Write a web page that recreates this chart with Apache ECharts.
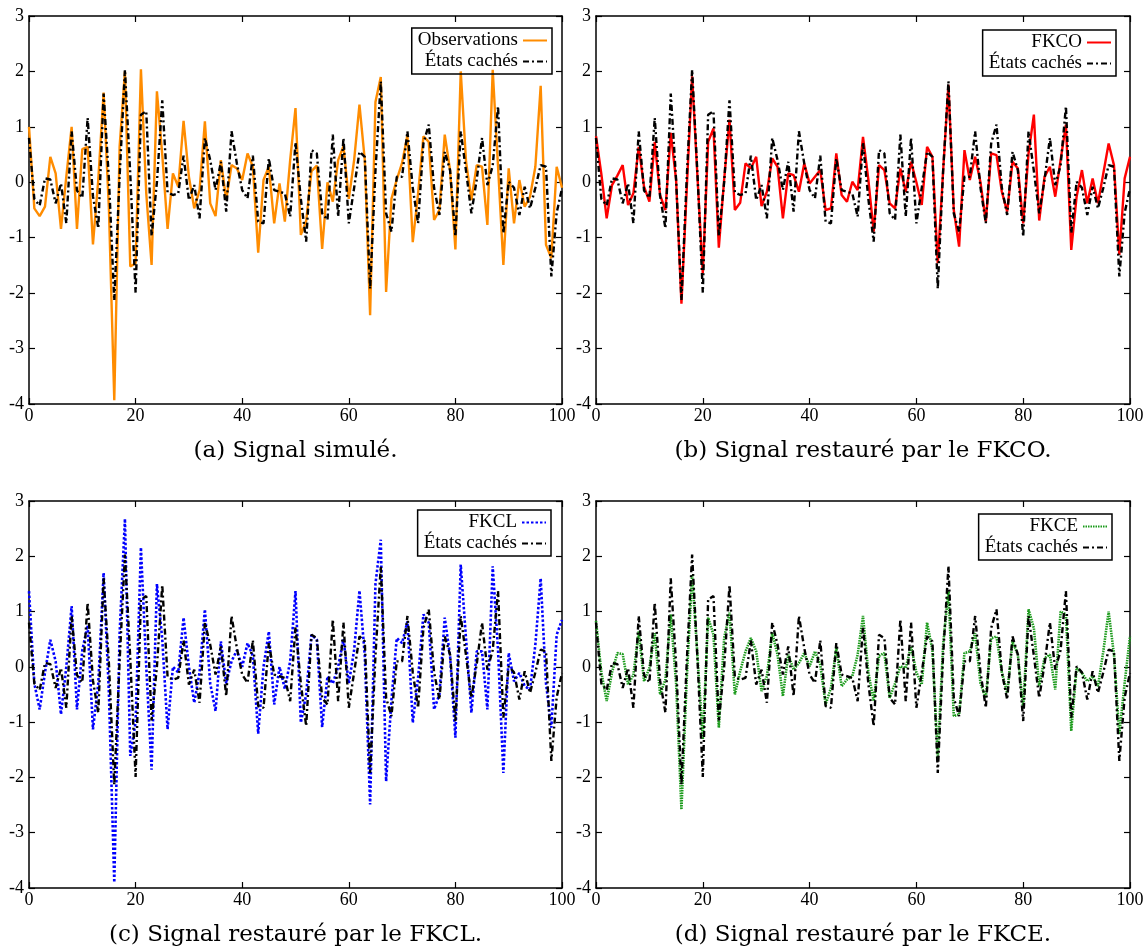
<!DOCTYPE html>
<html>
<head>
<meta charset="utf-8">
<script src="https://cdn.jsdelivr.net/npm/echarts@6/dist/echarts.min.js"></script>
<style>
html,body{margin:0;padding:0;background:#fff;}
#chart{width:1148px;height:950px;}
</style>
</head>
<body>
<div id="chart"></div>
<script>
// ---- data ----
var xTicks = [0, 20, 40, 60, 80, 100];
var yTicks = [-4, -3, -2, -1, 0, 1, 2, 3];

var hiddenStates = [
  0.80, -0.30, -0.42, 0.07, 0.05, -0.38, -0.02, -0.74, 0.92, -0.15,
  -0.28, 1.16, -0.25, -0.83, 1.60, 0.05, -2.13, 0.10, 2.03, 0.15,
  -1.99, 1.22, 1.28, -0.97, 0.00, 1.48, -0.18, -0.23, -0.20, 0.48,
  -0.32, -0.05, -0.65, 0.80, 0.40, -0.14, 0.37, -0.53, 0.92, 0.34,
  -0.14, -0.29, 0.48, -0.71, -0.74, 0.43, -0.14, -0.17, -0.20, -0.62,
  0.72, -0.30, -1.07, 0.58, 0.52, -0.56, -0.68, 0.86, -0.62, 0.80,
  -0.74, -0.10, 0.55, 0.46, -1.92, 0.20, 1.82, -0.56, -0.89, 0.10,
  0.10, 0.92, -0.10, -0.74, 0.70, 1.04, -0.10, -0.59, 0.55, 0.22,
  -0.98, 0.92, 0.20, -0.56, 0.05, 0.80, -0.05, 0.30, 1.37, -0.92,
  0.01, -0.10, -0.59, -0.08, -0.47, -0.10, 0.31, 0.28, -1.70, -0.55, -0.11
];

var observations = [
  1.00, -0.47, -0.61, -0.44, 0.46, 0.16, -0.84, 0.10, 1.00, -0.84,
  0.60, 0.64, -1.12, 0.05, 1.62, -0.50, -3.93, 0.64, 2.00, -1.52,
  -1.46, 2.04, -0.20, -1.49, 1.64, 0.50, -0.84, 0.16, -0.08, 1.11,
  0.10, -0.47, -0.14, 1.10, -0.38, -0.61, 0.40, -0.32, 0.31, 0.25,
  0.04, 0.52, 0.28, -1.27, 0.04, 0.28, -0.74, -0.02, -0.71, 0.40,
  1.34, -0.95, -0.70, 0.20, 0.30, -1.20, 0.00, -0.35, 0.40, 0.65,
  -0.30, 0.40, 1.40, 0.40, -2.40, 1.45, 1.90, -1.98, -0.30, 0.05,
  0.35, 0.85, -1.08, -0.20, 0.83, 0.73, -0.68, -0.50, 0.86, 0.22,
  -1.21, 2.00, 0.37, -0.32, 0.31, 0.28, -0.77, 2.03, 0.28, -1.49,
  0.25, -0.74, 0.04, -0.44, -0.26, 0.28, 1.74, -1.13, -1.37, 0.28, -0.10
];

var fkco = [
  0.83, 0.15, -0.65, -0.05, 0.12, 0.31, -0.41, -0.20, 0.64, -0.08,
  -0.35, 0.73, -0.23, -0.50, 0.89, 0.04, -2.19, -0.10, 1.91, 0.10,
  -1.64, 0.73, 0.97, -1.18, 0.05, 1.13, -0.50, -0.37, 0.34, 0.25,
  0.46, -0.43, -0.17, 0.43, 0.28, -0.65, 0.16, 0.13, -0.17, 0.34,
  -0.02, 0.10, 0.22, -0.50, -0.47, 0.52, -0.23, -0.35, 0.01, -0.14,
  0.82, 0.05, -0.89, 0.31, 0.22, -0.38, -0.47, 0.25, -0.17, 0.37,
  0.00, -0.41, 0.64, 0.46, -1.46, 0.20, 1.76, -0.50, -1.16, 0.58,
  0.04, 0.46, 0.00, -0.71, 0.52, 0.49, -0.17, -0.53, 0.37, 0.25,
  -0.74, 0.52, 1.22, -0.69, 0.10, 0.28, -0.26, 0.40, 1.04, -1.22,
  -0.26, 0.22, -0.38, 0.07, -0.38, 0.16, 0.70, 0.31, -1.31, 0.07, 0.46
];

var fkcl = [
  1.37, -0.30, -0.77, -0.10, 0.49, 0.10, -0.86, 0.00, 1.10, -0.77,
  0.30, 0.75, -1.13, -0.30, 1.70, -0.50, -3.90, 0.60, 2.68, -1.61,
  -1.00, 2.16, 0.00, -1.86, 1.50, 0.50, -1.13, 0.00, -0.10, 0.89,
  0.00, -0.65, -0.10, 1.04, -0.30, -0.80, 0.46, -0.30, 0.10, 0.30,
  0.00, 0.43, 0.20, -1.21, 0.00, 0.64, -0.68, 0.00, -0.40, 0.10,
  1.37, -1.01, -0.50, 0.58, 0.49, -1.09, -0.17, -0.30, 0.00, 0.50,
  -0.30, 0.30, 1.38, 0.20, -2.49, 1.50, 2.30, -2.07, -0.60, 0.52,
  0.43, 0.82, -1.01, -0.20, 0.95, 0.80, -0.77, -0.50, 0.89, 0.20,
  -1.28, 1.85, 0.50, -0.83, 0.28, 0.28, -0.77, 1.82, 0.30, -1.92,
  0.25, -0.26, -0.11, -0.35, -0.41, 0.40, 1.60, -0.30, -1.10, 0.58, 0.85
];

var fkce = [
  0.83, -0.10, -0.62, -0.10, 0.25, 0.23, -0.32, -0.15, 0.64, -0.26,
  -0.02, 0.61, -0.50, -0.23, 0.95, -0.30, -2.58, -0.20, 1.67, 0.20,
  -1.31, 0.89, 0.58, -1.10, 0.52, 0.98, -0.50, -0.08, 0.28, 0.52,
  0.28, -0.44, -0.17, 0.61, 0.22, -0.53, 0.22, -0.05, 0.07, 0.25,
  0.01, 0.28, 0.04, -0.68, -0.38, 0.34, -0.35, -0.23, -0.17, 0.22,
  0.92, -0.10, -0.62, 0.20, 0.25, -0.56, -0.30, 0.01, -0.02, 0.37,
  -0.10, -0.32, 0.80, 0.30, -1.64, 0.40, 1.37, -0.89, -0.86, 0.25,
  0.28, 0.61, -0.30, -0.56, 0.52, 0.55, -0.10, -0.47, 0.46, 0.22,
  -0.74, 1.04, 0.70, -0.35, 0.16, 0.22, -0.41, 1.00, 0.95, -1.16,
  -0.02, -0.11, -0.26, -0.17, -0.35, 0.28, 1.00, 0.22, -1.22, -0.29, 0.55
];

var panelNames = ['Observations', 'FKCO', 'FKCL', 'FKCE'];
var hiddenName = 'États cachés';
var captions = ['(a) Signal simulé.', '(b) Signal restauré par le FKCO.',
                '(c) Signal restauré par le FKCL.', '(d) Signal restauré par le FKCE.'];

// ---- layout / style ----
var panelSeries = [observations, fkco, fkcl, fkce];
var panelColors = ['#ff8c00', '#ff0000', '#0000ff', '#1a9a1a'];
var panelDash = ['solid', 'solid', [2.5, 2], [1.5, 1]];
var grids = [
  {left: 29, top: 16, width: 533, height: 388},
  {left: 596, top: 16, width: 534, height: 388},
  {left: 29, top: 501, width: 533, height: 387},
  {left: 596, top: 501, width: 534, height: 387}
];
var legendPos = [
  {right: 596, top: 28},
  {right: 32, top: 30},
  {right: 597, top: 510},
  {right: 36, top: 514}
];

var serif = 'Liberation Serif';
var option = {
  animation: false,
  backgroundColor: '#fff',
  grid: [], xAxis: [], yAxis: [], series: [], legend: [], graphic: []
};

function toPoints(arr) { return arr.map(function (v, i) { return [i, v]; }); }

for (var p = 0; p < 4; p++) {
  var g = grids[p];
  option.grid.push({left: g.left, top: g.top, width: g.width, height: g.height, containLabel: false});
  var axisLine = {show: true, onZero: false, lineStyle: {color: '#000', width: 1.5}};
  var tick = {show: true, inside: true, length: 6, lineStyle: {color: '#000', width: 1.2}};
  option.xAxis.push({
    type: 'value', gridIndex: p, min: xTicks[0], max: xTicks[xTicks.length - 1], interval: 20,
    position: 'bottom', axisLine: axisLine, axisTick: tick, splitLine: {show: false},
    axisLabel: {color: '#000', fontFamily: serif, fontSize: 18, margin: 3}
  });
  option.xAxis.push({
    type: 'value', gridIndex: p, min: xTicks[0], max: xTicks[xTicks.length - 1], interval: 20,
    position: 'top', axisLine: axisLine, axisTick: tick, splitLine: {show: false},
    axisLabel: {show: false}
  });
  option.yAxis.push({
    type: 'value', gridIndex: p, min: yTicks[0], max: yTicks[yTicks.length - 1], interval: 1,
    position: 'left', axisLine: axisLine, axisTick: tick, splitLine: {show: false},
    axisLabel: {color: '#000', fontFamily: serif, fontSize: 18, margin: 5}
  });
  option.yAxis.push({
    type: 'value', gridIndex: p, min: yTicks[0], max: yTicks[yTicks.length - 1], interval: 1,
    position: 'right', axisLine: axisLine, axisTick: tick, splitLine: {show: false},
    axisLabel: {show: false}
  });

  option.series.push({
    name: panelNames[p], type: 'line', xAxisIndex: 2 * p, yAxisIndex: 2 * p,
    data: toPoints(panelSeries[p]), symbol: 'none', showSymbol: false,
    lineStyle: {color: panelColors[p], width: p >= 2 ? 2.6 : 2.4, type: panelDash[p]},
    itemStyle: {color: panelColors[p]}, z: 2
  });
  option.series.push({
    name: hiddenName, type: 'line', xAxisIndex: 2 * p, yAxisIndex: 2 * p,
    data: toPoints(hiddenStates), symbol: 'none', showSymbol: false,
    lineStyle: {color: '#000', width: 2.4, type: [6, 3, 2, 3]},
    itemStyle: {color: '#000'}, z: 3
  });

  option.legend.push({
    data: [panelNames[p], hiddenName], orient: 'vertical', align: 'right',
    right: legendPos[p].right, top: legendPos[p].top,
    borderColor: '#000', borderWidth: 1.5, borderRadius: 0, padding: [3, 4, 3, 6],
    itemGap: 2, itemWidth: 24, itemHeight: 14, selectedMode: false,
    itemStyle: {color: 'rgba(0,0,0,0)', borderWidth: 0, opacity: 0},
    textStyle: {fontFamily: serif, fontSize: 19, color: '#000'}
  });

  option.graphic.push({
    type: 'text', x: g.left + g.width / 2, y: g.top + g.height + 36,
    style: {text: captions[p], font: '23px "DejaVu Serif"', fill: '#000', textAlign: 'center', textVerticalAlign: 'top'}
  });
}

var chart = echarts.init(document.getElementById('chart'), null, {renderer: 'canvas'});
chart.setOption(option);
</script>
</body>
</html>
